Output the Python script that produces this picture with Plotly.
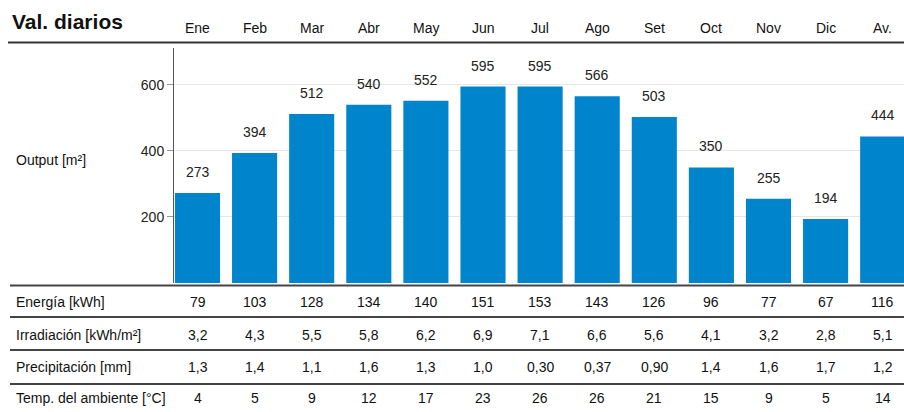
import plotly.graph_objects as go

W, H = 904, 412

months = ["Ene", "Feb", "Mar", "Abr", "May", "Jun", "Jul", "Ago", "Set", "Oct", "Nov", "Dic", "Av."]
output = [273, 394, 512, 540, 552, 595, 595, 566, 503, 350, 255, 194, 444]

row_labels = ["Energía [kWh]", "Irradiación [kWh/m²]", "Precipitación [mm]", "Temp. del ambiente [°C]"]
energia = ["79", "103", "128", "134", "140", "151", "153", "143", "126", "96", "77", "67", "116"]
irradiacion = ["3,2", "4,3", "5,5", "5,8", "6,2", "6,9", "7,1", "6,6", "5,6", "4,1", "3,2", "2,8", "5,1"]
precipitacion = ["1,3", "1,4", "1,1", "1,6", "1,3", "1,0", "0,30", "0,37", "0,90", "1,4", "1,6", "1,7", "1,2"]
temperatura = ["4", "5", "9", "12", "17", "23", "26", "26", "21", "15", "9", "5", "14"]
table_rows = [energia, irradiacion, precipitacion, temperatura]

FONT = "Liberation Sans Narrow, Liberation Sans, Arial, sans-serif"
BAR_COLOR = "#0084cc"


def py(p):
    # pixel row -> paper y
    return 1 - p / H


def px(p):
    return p / W


x_idx = list(range(len(months)))

# column geometry: centre of column k = 197.5 + 57.1*k (pixels)
step = 57.1
c0 = 197.5
axis_px = 174

fig = go.Figure()
fig.add_trace(go.Bar(
    x=x_idx,
    y=output,
    marker=dict(color=BAR_COLOR, line=dict(width=0)),
    hoverinfo="skip",
))

annotations = []


def note(x, y, text, xref="paper", yref="paper", xanchor="center", size=14, **kw):
    annotations.append(dict(
        x=x, y=y, xref=xref, yref=yref, text=text, showarrow=False,
        xanchor=xanchor, yanchor="middle",
        font=kw.pop("font", dict(family=FONT, size=size, color="#111")), **kw,
    ))


# value labels above bars
for k, v in zip(x_idx, output):
    note(k, v, str(v), xref="x", yref="y", yshift=21,
         font=dict(family=FONT, size=14, color="#222"))

# month headers
for k, m in zip(x_idx, months):
    note(k, py(28), m, xref="x", size=14)

# title
note(px(10), py(22), "<b>Val. diarios</b>", xanchor="left",
     font=dict(family="Liberation Sans, Arial, sans-serif", size=21, color="#111"))

# y-axis label
note(px(14), py(160), "Output [m²]", xanchor="left", size=14)

# table
row_y = [302, 335, 367, 398]
for label, vals, yy in zip(row_labels, table_rows, row_y):
    note(px(14), py(yy), label, xanchor="left", size=14)
    for k, v in zip(x_idx, vals):
        note(k, py(yy), v, xref="x", size=14)

shapes = []
# header rule
shapes.append(dict(type="line", xref="paper", yref="paper",
                   x0=px(8), x1=1, y0=py(42.5), y1=py(42.5),
                   line=dict(color="#333", width=2)))
# table rules
for yy in [285.5, 317, 350, 384]:
    shapes.append(dict(type="line", xref="paper", yref="paper",
                       x0=px(10), x1=1, y0=py(yy), y1=py(yy),
                       line=dict(color="#444", width=2)))

x0 = (axis_px - c0) / step
x1 = (W - c0) / step

fig.update_layout(
    width=W, height=H,
    margin=dict(l=0, r=0, t=0, b=0),
    paper_bgcolor="white", plot_bgcolor="white",
    showlegend=False,
    bargap=0.21,
    xaxis=dict(
        domain=[px(axis_px), 1], range=[x0, x1],
        showticklabels=False, showgrid=False, zeroline=False, ticks="",
        fixedrange=True,
    ),
    yaxis=dict(
        domain=[py(283), py(48)], range=[0, 712],
        tickvals=[200, 400, 600], ticks="outside", ticklen=6, tickcolor="#999",
        tickfont=dict(family=FONT, size=14, color="#222"),
        showgrid=True, gridcolor="#e6e6e6", gridwidth=1,
        showline=True, linecolor="#555", linewidth=1,
        zeroline=False, fixedrange=True,
    ),
    annotations=annotations,
    shapes=shapes,
)

fig.write_html("out.html", config={"displayModeBar": False},
               post_script="document.body.style.margin='0px';")
